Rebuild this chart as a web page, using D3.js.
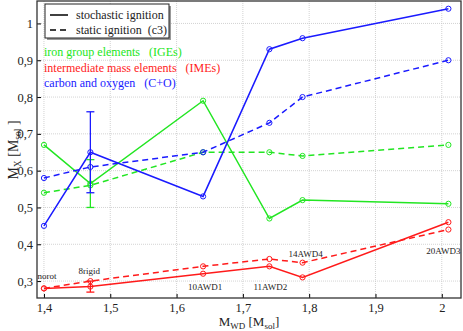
<!DOCTYPE html>
<html>
<head>
<meta charset="utf-8">
<title>M_X vs M_WD</title>
<style>
  html, body { margin: 0; padding: 0; background: #fff; }
  svg { display: block; }
  .grid line { stroke: #c8c8c8; stroke-dasharray: 1,1; stroke-width: 0.8; }
  .axis path { display: none; }
  .axis line { stroke: #000; }
</style>
<script src="https://d3js.org/d3.v7.min.js"></script>
</head>
<body>
<svg id="chart" width="463" height="331"></svg>
<script>
// data
const masses = [1.4, 1.47, 1.64, 1.74, 1.79, 2.01];
const modelNames = ["norot", "8rigid", "10AWD1", "11AWD2", "14AWD4", "20AWD3"];
const igeStochastic = [0.67, 0.565, 0.79, 0.47, 0.52, 0.51];
const igeStatic = [0.54, 0.56, 0.65, 0.65, 0.64, 0.67];
const imeStochastic = [0.28, 0.285, 0.32, 0.34, 0.31, 0.46];
const imeStatic = [0.28, 0.30, 0.34, 0.36, 0.35, 0.44];
const coStochastic = [0.45, 0.65, 0.53, 0.93, 0.96, 1.04];
const coStatic = [0.58, 0.61, 0.65, 0.73, 0.80, 0.90];
// error bars of the 8rigid model (stochastic)
const errLow = { ige: 0.50, ime: 0.27, co: 0.54 };
const errHigh = { ige: 0.63, ime: 0.30, co: 0.76 };
const xTicks = [1.4, 1.5, 1.6, 1.7, 1.8, 1.9, 2.0];
const yTicks = [0.3, 0.4, 0.5, 0.6, 0.7, 0.8, 0.9, 1.0];

const colors = { ige: "#22e622", ime: "#ff1a1a", co: "#1a1aff" };
const serif = "Liberation Serif";

const plot = { left: 37, right: 461, top: 1, bottom: 298 };
const svg = d3.select("#chart");

const x = d3.scaleLinear().domain([1.3895, 2.029]).range([plot.left, plot.right]);
const y = d3.scaleLinear().domain([0.254, 1.061]).range([plot.bottom, plot.top]);

const fmt = d => d === 1 || d === 2 ? String(d) : d3.format(".1f")(d).replace(".", ",");

// grid
svg.append("g").attr("class", "grid")
  .selectAll("line").data(xTicks).enter().append("line")
  .attr("x1", d => x(d)).attr("x2", d => x(d))
  .attr("y1", plot.top).attr("y2", plot.bottom);
svg.append("g").attr("class", "grid")
  .selectAll("line").data(yTicks).enter().append("line")
  .attr("x1", plot.left).attr("x2", plot.right)
  .attr("y1", d => y(d)).attr("y2", d => y(d));

// axes
const gx = svg.append("g").attr("class", "axis")
  .attr("transform", "translate(0," + plot.bottom + ")")
  .call(d3.axisBottom(x).tickValues(xTicks).tickFormat(fmt).tickSize(-4).tickPadding(5));
const gy = svg.append("g").attr("class", "axis")
  .attr("transform", "translate(" + plot.left + ",0)")
  .call(d3.axisLeft(y).tickValues(yTicks).tickFormat(fmt).tickSize(-4).tickPadding(4));
[gx, gy].forEach(g => g.selectAll("text")
  .attr("font-family", serif).attr("font-size", 12.5).attr("fill", "#222"));

// frame
svg.append("rect")
  .attr("x", plot.left).attr("y", plot.top)
  .attr("width", plot.right - plot.left).attr("height", plot.bottom - plot.top)
  .attr("fill", "none").attr("stroke", "#333").attr("stroke-width", 1.3);

const series = [
  { key: "ige", vals: igeStochastic, dash: null },
  { key: "ige", vals: igeStatic, dash: "6,4" },
  { key: "ime", vals: imeStochastic, dash: null },
  { key: "ime", vals: imeStatic, dash: "6,4" },
  { key: "co", vals: coStochastic, dash: null },
  { key: "co", vals: coStatic, dash: "6,4" }
];

const line = d3.line().x((d, i) => x(masses[i])).y(d => y(d));

series.forEach(s => {
  svg.append("path").datum(s.vals)
    .attr("d", line)
    .attr("fill", "none")
    .attr("stroke", colors[s.key])
    .attr("stroke-width", 1.5)
    .attr("stroke-dasharray", s.dash);
  svg.append("g").selectAll("circle").data(s.vals).enter().append("circle")
    .attr("cx", (d, i) => x(masses[i]))
    .attr("cy", d => y(d))
    .attr("r", 2.6)
    .attr("fill", "none")
    .attr("stroke", colors[s.key])
    .attr("stroke-width", 1);
});

// error bars at 8rigid
["ige", "ime", "co"].forEach(k => {
  const g = svg.append("g").attr("stroke", colors[k]).attr("stroke-width", 1.3);
  const cx = x(masses[1]);
  g.append("line").attr("x1", cx).attr("x2", cx)
    .attr("y1", y(errLow[k])).attr("y2", y(errHigh[k]));
  [errLow[k], errHigh[k]].forEach(v => {
    g.append("line").attr("x1", cx - 4).attr("x2", cx + 4)
      .attr("y1", y(v)).attr("y2", y(v));
  });
});

// model labels
const labelPos = [
  { dx: 3, dy: -9 }, { dx: -1, dy: -13 }, { dx: 2, dy: 16 },
  { dx: 1, dy: 24 }, { dx: 3, dy: -20 }, { dx: -5, dy: 32 }
];
svg.append("g").selectAll("text").data(modelNames).enter().append("text")
  .attr("x", (d, i) => x(masses[i]) + labelPos[i].dx)
  .attr("y", (d, i) => y(imeStochastic[i]) + labelPos[i].dy)
  .attr("text-anchor", "middle")
  .attr("font-family", serif)
  .attr("font-size", 9)
  .attr("fill", "#222")
  .text(d => d);

// line-style legend
const lg = svg.append("g");
lg.append("rect").attr("x", 47).attr("y", 6).attr("width", 124).attr("height", 34)
  .attr("fill", "#999");
lg.append("rect").attr("x", 45).attr("y", 4).attr("width", 124).attr("height", 34)
  .attr("fill", "#fff").attr("stroke", "#222").attr("stroke-width", 1);
const legendItems = [
  { label: "stochastic ignition", dash: null },
  { label: "static ignition  (c3)", dash: "6,4" }
];
legendItems.forEach((d, i) => {
  const ly = 15 + i * 15;
  lg.append("line").attr("x1", 50).attr("x2", 68).attr("y1", ly).attr("y2", ly)
    .attr("stroke", "#000").attr("stroke-width", 1.5).attr("stroke-dasharray", d.dash);
  lg.append("text").attr("x", 76).attr("y", ly + 4)
    .attr("font-family", serif).attr("font-size", 12)
    .attr("fill", "#222").style("white-space", "pre").text(d.label);
});

// element group labels
const groupLabels = [
  { key: "ige", text: "iron group elements   (IGEs)" },
  { key: "ime", text: "intermediate mass elements   (IMEs)" },
  { key: "co", text: "carbon and oxygen   (C+O)" }
];
svg.append("g").selectAll("text").data(groupLabels).enter().append("text")
  .attr("x", 44)
  .attr("y", (d, i) => 56 + i * 15.5)
  .attr("font-family", serif)
  .attr("font-size", 12)
  .attr("fill", d => colors[d.key])
  .style("white-space", "pre")
  .text(d => d.text);

// axis titles
const xt = svg.append("text").attr("x", 249).attr("y", 326)
  .attr("text-anchor", "middle").attr("font-family", serif)
  .attr("font-size", 13).attr("fill", "#222");
xt.append("tspan").text("M");
xt.append("tspan").attr("font-size", 9).attr("dy", 3).text("WD");
xt.append("tspan").attr("dy", -3).text(" [M");
xt.append("tspan").attr("font-size", 9).attr("dy", 3).text("sol");
xt.append("tspan").attr("dy", -3).text("]");

const yt = svg.append("text").attr("transform", "translate(18,150) rotate(-90)")
  .attr("text-anchor", "middle").attr("font-family", serif)
  .attr("font-size", 14).attr("fill", "#222");
yt.append("tspan").text("M");
yt.append("tspan").attr("font-size", 9.5).attr("dy", 3).text("X");
yt.append("tspan").attr("dy", -3).text("  [M");
yt.append("tspan").attr("font-size", 9.5).attr("dy", 3).text("sol");
yt.append("tspan").attr("dy", -3).text(" ]");
</script>
</body>
</html>
